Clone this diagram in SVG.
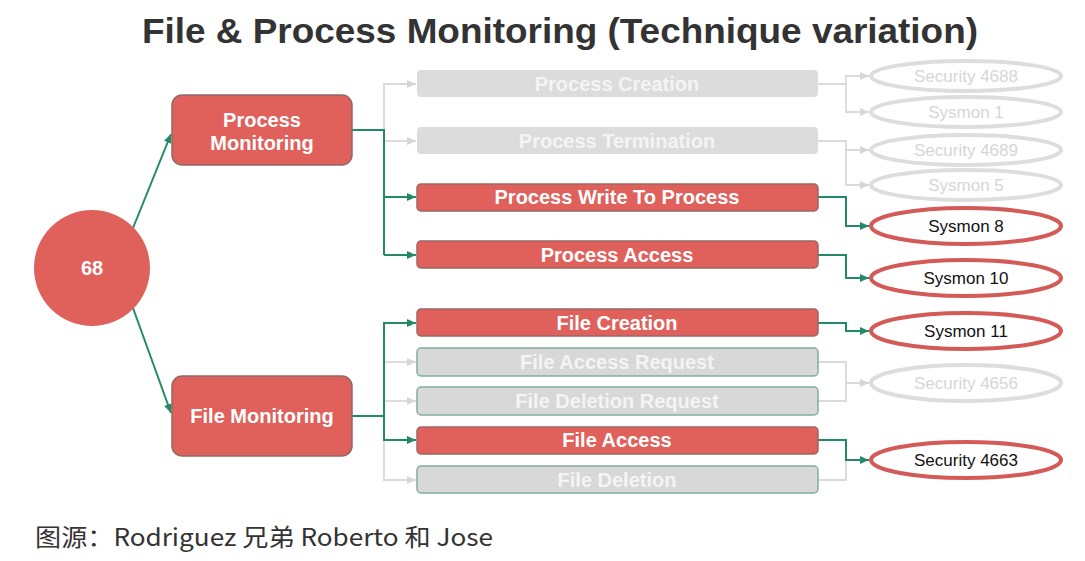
<svg xmlns="http://www.w3.org/2000/svg" width="1085" height="561" viewBox="0 0 1085 561">
<style>
.title{font-family:"Liberation Sans",Arial,sans-serif;font-weight:bold;font-size:35px;fill:#333333}
.cap{font-family:"Noto Sans CJK SC","Liberation Sans",sans-serif;font-size:24px;fill:#333333}
.lbl{font-family:"Liberation Sans",Arial,sans-serif;font-weight:bold;font-size:20px;fill:#ffffff;text-anchor:middle}
.glbl{font-family:"Liberation Sans",Arial,sans-serif;font-weight:bold;font-size:20px;fill:#f4f4f4;text-anchor:middle}
.etxt{font-family:"Liberation Sans",Arial,sans-serif;font-size:17px;fill:#111111;text-anchor:middle}
.getxt{font-family:"Liberation Sans",Arial,sans-serif;font-size:17px;fill:#d6d6d6;text-anchor:middle}
.red{fill:#e0605b;stroke:#9a6763;stroke-width:1.5}
.big{fill:#e0605b;stroke:#8f6a66;stroke-width:1.5}
.gp{fill:#dcdcdc;stroke:none}
.gf{fill:#d8d8d8;stroke:#84ad9f;stroke-width:1.5}
.er{fill:#ffffff;stroke:#d35a57;stroke-width:4}
.eg{fill:#ffffff;stroke:#dddddd;stroke-width:4}
.cg{fill:none;stroke:#238a68;stroke-width:2}
.cx{fill:none;stroke:#dadada;stroke-width:1.8}
</style>
<defs>
<marker id="ag" markerUnits="userSpaceOnUse" markerWidth="10" markerHeight="10" refX="9" refY="5" orient="auto"><path d="M0,1 L9,5 L0,9 z" fill="#238a68"/></marker>
<marker id="ax" markerUnits="userSpaceOnUse" markerWidth="10" markerHeight="10" refX="9" refY="5" orient="auto"><path d="M0,1 L9,5 L0,9 z" fill="#d6d6d6"/></marker>
</defs>
<rect width="1085" height="561" fill="#ffffff"/>
<text class="title" x="142" y="43" textLength="836" lengthAdjust="spacingAndGlyphs">File &amp; Process Monitoring (Technique variation)</text>

<g id="connectors">
<path class="cg" d="M133,228 L171,134" marker-end="url(#ag)"/>
<path class="cg" d="M133,308 L171,413" marker-end="url(#ag)"/>
<path class="cx" d="M384,130 V84 H416" marker-end="url(#ax)"/>
<path class="cx" d="M384,141 H416" marker-end="url(#ax)"/>
<path class="cg" d="M352,130 H384 V255"/>
<path class="cg" d="M384,197 H416" marker-end="url(#ag)"/>
<path class="cg" d="M384,255 H416" marker-end="url(#ag)"/>
<path class="cx" d="M384,440 V480 H416" marker-end="url(#ax)"/>
<path class="cx" d="M384,362 H416" marker-end="url(#ax)"/>
<path class="cx" d="M384,401 H416" marker-end="url(#ax)"/>
<path class="cg" d="M352,416 H384"/>
<path class="cg" d="M384,416 V323 H416" marker-end="url(#ag)"/>
<path class="cg" d="M384,416 V440 H416" marker-end="url(#ag)"/>
<path class="cx" d="M818,84 H846 V76 H869" marker-end="url(#ax)"/>
<path class="cx" d="M846,84 V112 H869" marker-end="url(#ax)"/>
<path class="cx" d="M818,141 H846 V150 H869" marker-end="url(#ax)"/>
<path class="cx" d="M846,150 V185 H869" marker-end="url(#ax)"/>
<path class="cg" d="M818,197 H846 V226 H869" marker-end="url(#ag)"/>
<path class="cg" d="M818,255 H846 V278 H869" marker-end="url(#ag)"/>
<path class="cg" d="M818,323 H846 V331 H869" marker-end="url(#ag)"/>
<path class="cx" d="M818,362 H846 V383 H869" marker-end="url(#ax)"/>
<path class="cx" d="M818,401 H846 V383"/>
<path class="cx" d="M818,480 H846 V460"/>
<path class="cg" d="M818,440 H846 V460 H869" marker-end="url(#ag)"/>
</g>

<g id="n68"><circle cx="92" cy="268" r="58" fill="#e0605b"/><text class="lbl" x="92" y="275">68</text></g>
<g id="process-monitoring"><rect class="big" x="172" y="95" width="180" height="70" rx="10"/><text class="lbl" x="262" y="127">Process</text><text class="lbl" x="262" y="150">Monitoring</text></g>
<g id="file-monitoring"><rect class="big" x="172" y="376" width="180" height="80" rx="10"/><text class="lbl" x="262" y="423">File Monitoring</text></g>

<g id="process-creation"><rect class="gp" x="417" y="70" width="401" height="27" rx="4"/><text class="glbl" x="617" y="91">Process Creation</text></g>
<g id="process-termination"><rect class="gp" x="417" y="127" width="401" height="27" rx="4"/><text class="glbl" x="617" y="148">Process Termination</text></g>
<g id="process-write"><rect class="red" x="417" y="184" width="401" height="27" rx="4"/><text class="lbl" x="617" y="204">Process Write To Process</text></g>
<g id="process-access"><rect class="red" x="417" y="241" width="401" height="27" rx="4"/><text class="lbl" x="617" y="262">Process Access</text></g>

<g id="file-creation"><rect class="red" x="417" y="309" width="401" height="27" rx="4"/><text class="lbl" x="617" y="330">File Creation</text></g>
<g id="file-access-request"><rect class="gf" x="417" y="348" width="401" height="28" rx="4"/><text class="glbl" x="617" y="369">File Access Request</text></g>
<g id="file-deletion-request"><rect class="gf" x="417" y="387" width="401" height="28" rx="4"/><text class="glbl" x="617" y="408">File Deletion Request</text></g>
<g id="file-access"><rect class="red" x="417" y="427" width="401" height="27" rx="4"/><text class="lbl" x="617" y="447">File Access</text></g>
<g id="file-deletion"><rect class="gf" x="417" y="466" width="401" height="27" rx="4"/><text class="glbl" x="617" y="487">File Deletion</text></g>

<g id="security-4688"><ellipse class="eg" cx="966" cy="76" rx="95" ry="15"/><text class="getxt" x="966" y="82">Security 4688</text></g>
<g id="sysmon-1"><ellipse class="eg" cx="966" cy="112" rx="95" ry="15"/><text class="getxt" x="966" y="118">Sysmon 1</text></g>
<g id="security-4689"><ellipse class="eg" cx="966" cy="150" rx="95" ry="15"/><text class="getxt" x="966" y="156">Security 4689</text></g>
<g id="sysmon-5"><ellipse class="eg" cx="966" cy="185" rx="95" ry="15"/><text class="getxt" x="966" y="191">Sysmon 5</text></g>
<g id="sysmon-8"><ellipse class="er" cx="966" cy="226" rx="95" ry="18"/><text class="etxt" x="966" y="232">Sysmon 8</text></g>
<g id="sysmon-10"><ellipse class="er" cx="966" cy="278" rx="95" ry="18"/><text class="etxt" x="966" y="284">Sysmon 10</text></g>
<g id="sysmon-11"><ellipse class="er" cx="966" cy="331" rx="95" ry="18"/><text class="etxt" x="966" y="337">Sysmon 11</text></g>
<g id="security-4656"><ellipse class="eg" cx="966" cy="383" rx="95" ry="18"/><text class="getxt" x="966" y="389">Security 4656</text></g>
<g id="security-4663"><ellipse class="er" cx="966" cy="460" rx="95" ry="18"/><text class="etxt" x="966" y="466">Security 4663</text></g>

<text class="cap" x="35" y="546" textLength="458" lengthAdjust="spacingAndGlyphs">图源：Rodriguez 兄弟 Roberto 和 Jose</text>
</svg>
